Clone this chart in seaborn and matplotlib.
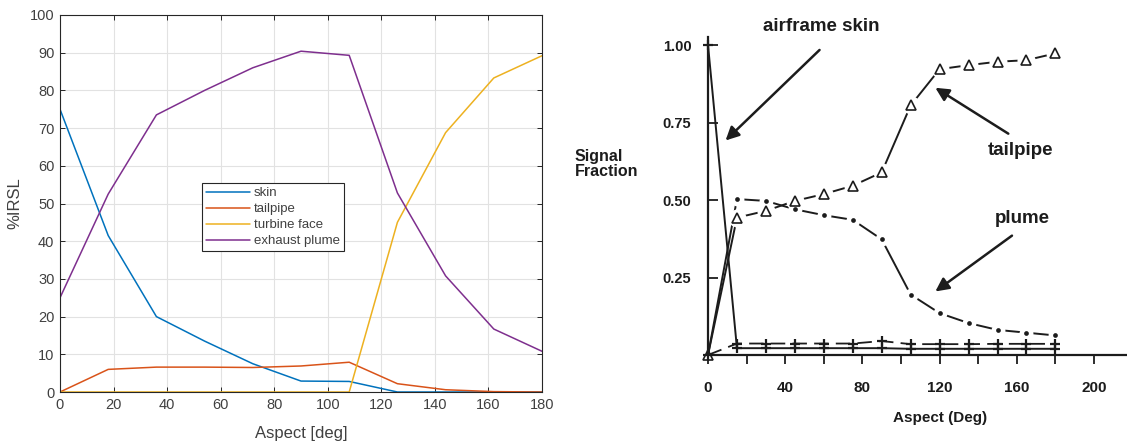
import matplotlib
matplotlib.use("Agg")
import matplotlib.pyplot as plt
import seaborn as sns
import pandas as pd

# ---------------- left panel data ----------------
aspect_left = [0, 18, 36, 54, 72, 90, 108, 126, 144, 162, 180]
skin = [75.0, 41.5, 20.0, 13.5, 7.5, 2.9, 2.8, 0.0, 0.0, 0.0, 0.0]
tailpipe = [0.0, 6.0, 6.6, 6.6, 6.5, 6.9, 7.9, 2.2, 0.6, 0.1, 0.0]
turbine_face = [0.0, 0.0, 0.0, 0.0, 0.0, 0.0, 0.0, 45.0, 68.8, 83.3, 89.2]
exhaust_plume = [25.0, 52.5, 73.5, 80.0, 86.0, 90.4, 89.3, 52.8, 30.8, 16.7, 10.8]
left_labels = ["skin", "tailpipe", "turbine face", "exhaust plume"]
left_colors = ["#0072BD", "#D95319", "#EDB120", "#7E2F8E"]
left_xticks = list(range(0, 181, 20))
left_yticks = list(range(0, 101, 10))

# ---------------- right panel data ----------------
aspect_right = [0, 15, 30, 45, 60, 75, 90, 105, 120, 135, 150, 165, 180]
tailpipe_frac = [0.0, 0.443, 0.465, 0.497, 0.519, 0.546, 0.589, 0.805, 0.922, 0.935, 0.946, 0.951, 0.973]
plume_frac = [0.0, 0.503, 0.497, 0.470, 0.451, 0.436, 0.373, 0.195, 0.135, 0.103, 0.081, 0.072, 0.063]
skin_frac = [1.0, 0.022, 0.022, 0.022, 0.022, 0.022, 0.022, 0.020, 0.020, 0.020, 0.020, 0.020, 0.020]
skin2_frac = [0.0, 0.037, 0.037, 0.037, 0.037, 0.037, 0.045, 0.035, 0.035, 0.035, 0.036, 0.036, 0.036]
right_xticks = list(range(0, 201, 20))
right_xticklabels = ["0", "", "40", "", "80", "", "120", "", "160", "", "200"]
right_yticks = [0.25, 0.50, 0.75, 1.00]
right_yticklabels = ["0.25", "0.50", "0.75", "1.00"]

sns.set_theme(style="white")
plt.rcParams["font.family"] = ["Liberation Sans", "DejaVu Sans"]

W, H = 1127, 445
fig = plt.figure(figsize=(W / 100, H / 100), dpi=100)

# ======================= LEFT =======================
axL = fig.add_axes([60 / W, (H - 392) / H, 482 / W, 377 / H])
df = pd.DataFrame({
    "Aspect": aspect_left * 4,
    "IRSL": skin + tailpipe + turbine_face + exhaust_plume,
    "component": sum([[lab] * len(aspect_left) for lab in left_labels], []),
})
sns.lineplot(data=df, x="Aspect", y="IRSL", hue="component", hue_order=left_labels,
             palette=left_colors, linewidth=1.1, ax=axL, legend=False)
axL.set_xlim(0, 180)
axL.set_ylim(0, 100)
axL.set_xticks(left_xticks)
axL.set_yticks(left_yticks)
axL.grid(True, color="#e2e2e2", linewidth=0.8)
axL.set_axisbelow(True)
for s in axL.spines.values():
    s.set_visible(True)
    s.set_color("#262626")
    s.set_linewidth(0.8)
axL.tick_params(direction="in", length=3.5, width=0.7, colors="#262626",
                labelcolor="#404040", labelsize=10.5, top=True, right=True,
                bottom=True, left=True, pad=4)
axL.set_xlabel("Aspect [deg]", fontsize=12, color="#404040", va="center")
axL.xaxis.set_label_coords(0.5, -0.109)
axL.set_ylabel("%IRSL", fontsize=12, color="#404040", va="center")
axL.yaxis.set_label_coords(-0.093, 0.5)
leg = axL.legend(handles=axL.lines[:4], labels=left_labels, loc="upper left",
                 bbox_to_anchor=(0.2946, 0.554), borderaxespad=0, fontsize=9.5,
                 handlelength=3.35, handletextpad=0.3, borderpad=0.3,
                 labelspacing=0.28, frameon=True, fancybox=False, framealpha=1)
leg.get_frame().set_edgecolor("#262626")
leg.get_frame().set_linewidth(0.8)
for t in leg.get_texts():
    t.set_color("#404040")

# ======================= RIGHT =======================
ink = "#1c1c1c"
top_px = 37
axR = fig.add_axes([708 / W, (H - 355) / H, (W - 708) / W, (355 - top_px) / H])
axR.set_facecolor("none")
xmax = (W - 708) / 1.93
axR.set_xlim(0, xmax)
axR.set_ylim(0, (355 - top_px) / 310)

# lines
sns.lineplot(x=aspect_right, y=plume_frac, ax=axR, color=ink, linewidth=1.4,
             clip_on=False, zorder=3)
sns.lineplot(x=aspect_right, y=tailpipe_frac, ax=axR, color=ink, linewidth=1.4,
             clip_on=False, zorder=3)
# white gaps around the markers
sns.lineplot(x=aspect_right[1:], y=tailpipe_frac[1:], ax=axR, color="white",
             linestyle="none", marker="o", markersize=13, mec="white", mew=0,
             clip_on=False, zorder=4)
sns.lineplot(x=aspect_right[1:], y=plume_frac[1:], ax=axR, color="white",
             linestyle="none", marker="o", markersize=10, mec="white", mew=0,
             clip_on=False, zorder=4)
# markers
sns.lineplot(x=aspect_right, y=tailpipe_frac, ax=axR, color=ink,
             linestyle="none", marker="^", markersize=7.5, mfc="white",
             mec=ink, mew=1.2, clip_on=False, zorder=5)
sns.lineplot(x=aspect_right[1:], y=plume_frac[1:], ax=axR, color=ink,
             linestyle="none", marker="o", markersize=3.4, mec=ink, mew=0,
             clip_on=False, zorder=5)
# skin components with "+" markers
sns.lineplot(x=aspect_right, y=skin_frac, ax=axR, color=ink, linewidth=1.4,
             marker="+", markersize=7, mec=ink, mew=1.6, clip_on=False, zorder=6)
sns.lineplot(x=aspect_right, y=skin2_frac, ax=axR, color=ink, linewidth=1.3,
             linestyle=(0, (8, 4)), marker="+", markersize=7, mec=ink, mew=1.6,
             clip_on=False, zorder=6)

for side in ["top", "right"]:
    axR.spines[side].set_visible(False)
for side in ["left", "bottom"]:
    axR.spines[side].set_color(ink)
    axR.spines[side].set_linewidth(1.6)
    axR.spines[side].set_zorder(2)

axR.set_xticks(right_xticks)
axR.set_xticklabels(right_xticklabels)
axR.set_yticks(right_yticks)
axR.set_yticklabels(right_yticklabels)
axR.tick_params(axis="x", direction="out", length=6.5, width=1.3, color=ink,
                labelcolor=ink, labelsize=11, pad=12, bottom=True)
axR.tick_params(axis="y", direction="in", length=7, width=1.3, color=ink,
                labelcolor=ink, labelsize=10.5, pad=12, left=True)
for lab in axR.get_xticklabels() + axR.get_yticklabels():
    lab.set_fontweight("bold")
axR.grid(False)

axR.set_xlabel("Aspect (Deg)", fontsize=11, fontweight="bold", color=ink, va="center")
axR.xaxis.set_label_coords(120 / xmax, -63 / (355 - top_px))
axR.text(-69, 0.617, "Signal\nFraction", fontsize=11.5, fontweight="bold",
         color=ink, ha="left", va="center", linespacing=1.0)

txt = dict(fontsize=13.5, fontweight="bold", color=ink, ha="center", va="center")
axR.text(58.5, 1.059, "airframe skin", **txt)
axR.text(162, 0.659, "tailpipe", **txt)
axR.text(163, 0.44, "plume", **txt)

arrow = dict(arrowstyle="-|>", color=ink, lw=1.8, mutation_scale=20,
             shrinkA=0, shrinkB=0)
axR.annotate("", xy=(9.1, 0.692), xytext=(57.8, 0.984), arrowprops=arrow,
             annotation_clip=False)
axR.annotate("", xy=(117.8, 0.862), xytext=(155.6, 0.714), arrowprops=arrow,
             annotation_clip=False)
axR.annotate("", xy=(117.8, 0.205), xytext=(157.5, 0.385), arrowprops=arrow,
             annotation_clip=False)

fig.savefig("out.png", dpi=100)
